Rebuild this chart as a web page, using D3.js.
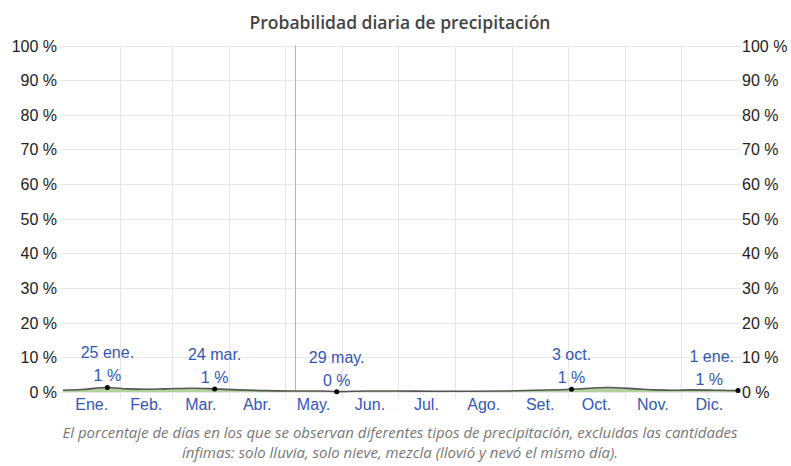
<!DOCTYPE html>
<html>
<head>
<meta charset="utf-8">
<script src="https://cdn.jsdelivr.net/npm/d3@7"></script>
<style>
  body { margin: 0; background: #fff; }
  svg text { font-family: Arial, "Liberation Sans", sans-serif; }
</style>
</head>
<body>
<div id="chart"></div>
<script>
var width = 791, height = 466;

// datos: dia del año -> probabilidad (%)
var days   = [0, 10, 24, 35, 45, 55, 70, 82, 95, 110, 125, 140, 148, 165, 180, 200, 220, 240, 255, 275, 285, 295, 310, 320, 330, 340, 355, 365];
var values = [0.5, 0.7, 1.3, 0.9, 0.8, 0.9, 1.1, 0.9, 0.6, 0.4, 0.3, 0.3, 0.1, 0.3, 0.3, 0.2, 0.2, 0.3, 0.5, 0.8, 1.1, 1.3, 0.9, 0.6, 0.5, 0.6, 0.5, 0.4];

var months = ["Ene.", "Feb.", "Mar.", "Abr.", "May.", "Jun.", "Jul.", "Ago.", "Set.", "Oct.", "Nov.", "Dic."];
var monthDays = [31, 28, 31, 30, 31, 30, 31, 31, 30, 31, 30, 31];
var yTicks = [0, 10, 20, 30, 40, 50, 60, 70, 80, 90, 100];

var annotDays   = [24, 82, 148, 275, 365];
var annotDates  = ["25 ene.", "24 mar.", "29 may.", "3 oct.", "1 ene."];
var annotValues = [1.3, 0.9, 0.1, 0.8, 0.4];
var annotLabels = ["1 %", "1 %", "0 %", "1 %", "1 %"];

var today = 125.5;

var title = "Probabilidad diaria de precipitación";
var caption = ["El porcentaje de días en los que se observan diferentes tipos de precipitación, excluidas las cantidades",
               "ínfimas: solo lluvia, solo nieve, mezcla (llovió y nevó el mismo día)."];

var pLeft = 63, pRight = 738, pTop = 45.5, pBottom = 392;

var x = d3.scaleLinear().domain([0, 365]).range([pLeft, pRight]);
var y = d3.scaleLinear().domain([0, 100]).range([pBottom, pTop]);

var svg = d3.select("#chart").append("svg")
  .attr("width", width)
  .attr("height", height);

// rejilla horizontal
svg.append("g").selectAll("line")
  .data(yTicks)
  .enter().append("line")
  .attr("x1", 60).attr("x2", 741)
  .attr("y1", function(d) { return Math.round(y(d)) + 0.5; })
  .attr("y2", function(d) { return Math.round(y(d)) + 0.5; })
  .attr("stroke", "#e8e8e8");

// limites de meses
var starts = d3.cumsum(monthDays).slice(0, 11);
svg.append("g").selectAll("line")
  .data(starts)
  .enter().append("line")
  .attr("x1", function(d) { return Math.round(x(d)) + 0.5; })
  .attr("x2", function(d) { return Math.round(x(d)) + 0.5; })
  .attr("y1", pTop).attr("y2", pBottom + 7)
  .attr("stroke", "#e6e6e6");

// etiquetas eje Y
var yl = svg.append("g").attr("font-size", "16px").attr("fill", "#222");
yl.selectAll(".yl")
  .data(yTicks)
  .enter().append("text")
  .attr("x", 57)
  .attr("y", function(d) { return y(d) + 6; })
  .attr("text-anchor", "end")
  .text(function(d) { return d + " %"; });
yl.selectAll(".yr")
  .data(yTicks)
  .enter().append("text")
  .attr("x", 742)
  .attr("y", function(d) { return y(d) + 6; })
  .text(function(d) { return d + " %"; });

// linea de hoy
svg.append("rect")
  .attr("x", Math.round(x(today)))
  .attr("y", pTop)
  .attr("width", 1)
  .attr("height", pBottom - pTop)
  .style("fill", "rgb(245, 150, 150)");

// meses
var mids = monthDays.map(function(d, i) { return d3.sum(monthDays.slice(0, i)) + d / 2; });
svg.append("g").selectAll("text")
  .data(months)
  .enter().append("text")
  .attr("x", function(d, i) { return x(mids[i]); })
  .attr("y", 410)
  .attr("text-anchor", "middle")
  .attr("font-size", "16px")
  .attr("fill", "#3456b8")
  .text(function(d) { return d; });

// area + linea
var pts = days.map(function(d, i) { return [d, values[i]]; });
svg.append("path")
  .datum(pts)
  .attr("fill", "#b3d19c")
  .attr("d", d3.area().curve(d3.curveMonotoneX)
    .x(function(d) { return x(d[0]); })
    .y0(y(0))
    .y1(function(d) { return y(d[1]); }));
svg.append("path")
  .datum(pts)
  .attr("fill", "none")
  .attr("stroke", "#555")
  .attr("stroke-width", 1.6)
  .attr("d", d3.line().curve(d3.curveMonotoneX)
    .x(function(d) { return x(d[0]); })
    .y(function(d) { return y(d[1]); }));

// anotaciones
var ann = svg.append("g");
annotDays.forEach(function(d, i) {
  var cx = x(d), cy = y(annotValues[i]);
  ann.append("circle").attr("cx", cx).attr("cy", cy).attr("r", 2.5).attr("fill", "#000");
  var last = i == annotDays.length - 1;
  var tx = last ? cx - 4 : cx;
  var anchor = last ? "end" : "middle";
  ann.append("text").attr("x", tx).attr("y", cy - 29)
    .attr("text-anchor", anchor).attr("font-size", "16px").attr("fill", "#3456b8")
    .text(annotDates[i]);
  ann.append("text").attr("x", last ? tx - 11 : tx).attr("y", cy - 6)
    .attr("text-anchor", anchor).attr("font-size", "16px").attr("fill", "#3456b8")
    .text(annotLabels[i]);
});

// titulo
svg.append("text")
  .attr("x", 400).attr("y", 29)
  .attr("text-anchor", "middle")
  .style("font-family", "'Open Sans', sans-serif")
  .attr("font-weight", 600)
  .attr("font-size", "17.5px")
  .attr("fill", "#444")
  .text(title);

// pie
svg.append("g").selectAll("text")
  .data(caption)
  .enter().append("text")
  .attr("x", 400)
  .attr("y", function(d, i) { return 438 + i * 20; })
  .attr("text-anchor", "middle")
  .style("font-family", "'Open Sans', sans-serif")
  .attr("font-style", "italic")
  .attr("font-size", "15px")
  .attr("fill", "#777")
  .text(function(d) { return d; });
</script>
</body>
</html>
